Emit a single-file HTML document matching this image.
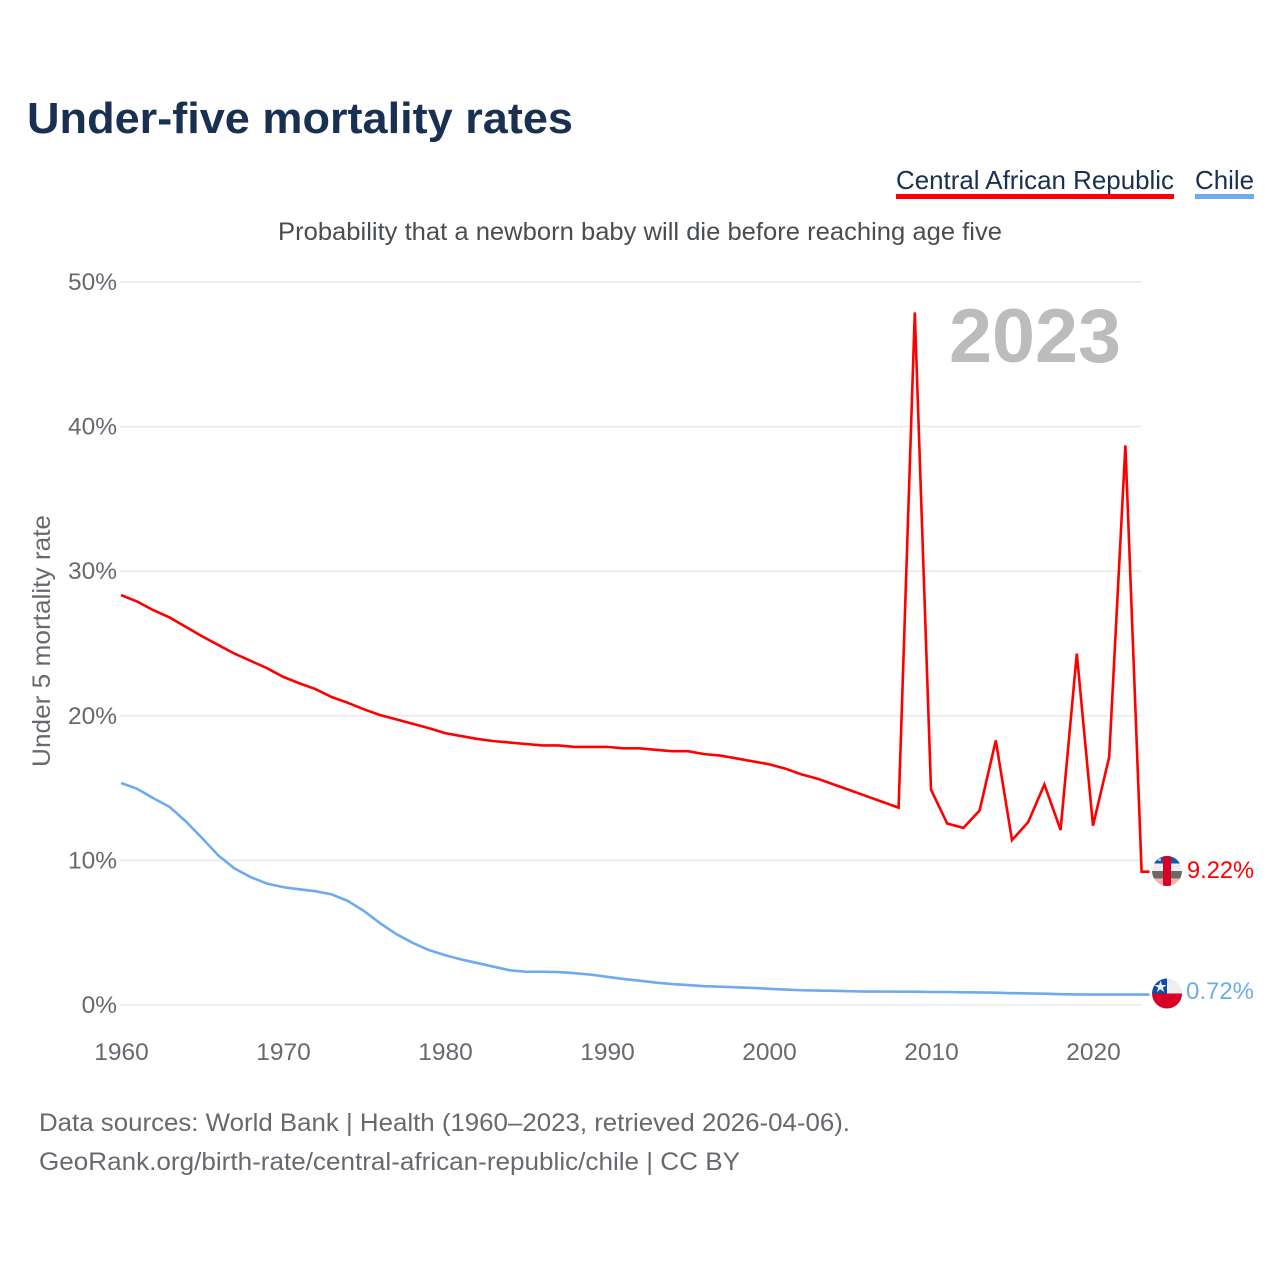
<!DOCTYPE html>
<html lang="en">
<head>
<meta charset="utf-8">
<title>Under-five mortality rates</title>
<style>
html,body{margin:0;padding:0;background:#fff;width:1280px;height:1280px;overflow:hidden}
svg{display:block}
text{font-family:"Liberation Sans",sans-serif}
.tick{fill:#666a6e;font-size:24.5px}
</style>
</head>
<body>
<svg id="chart" width="1280" height="1280" viewBox="0 0 1280 1280" xmlns="http://www.w3.org/2000/svg">
  <rect width="1280" height="1280" fill="#fff"/>
  <text x="27" y="133" font-size="44" font-weight="700" fill="#1a3050" textLength="546" lengthAdjust="spacingAndGlyphs">Under-five mortality rates</text>

  <g>
    <text x="896" y="189" font-size="26" fill="#1a3050" textLength="278" lengthAdjust="spacingAndGlyphs">Central African Republic</text>
    <rect x="896" y="194" width="278" height="5" fill="#ff0000"/>
  </g>
  <g>
    <text x="1195" y="189" font-size="26" fill="#1a3050" textLength="59" lengthAdjust="spacingAndGlyphs">Chile</text>
    <rect x="1195" y="194" width="59" height="5" fill="#6daaee"/>
  </g>

  <text x="278" y="240" font-size="25" fill="#4a4d50" textLength="724" lengthAdjust="spacingAndGlyphs">Probability that a newborn baby will die before reaching age five</text>

  <g id="grid"></g>
  <g id="yticks"></g>
  <g id="xticks"></g>

  <text transform="translate(50 641) rotate(-90)" text-anchor="middle" font-size="25" fill="#666a6e" textLength="252" lengthAdjust="spacingAndGlyphs">Under 5 mortality rate</text>

  <text x="949" y="362" font-size="76" font-weight="700" fill="#bbbcbe" textLength="172" lengthAdjust="spacingAndGlyphs">2023</text>

  <g id="series"></g>

  <defs>
    <clipPath id="clip-car"><circle cx="1167" cy="871" r="15"/></clipPath>
    <clipPath id="clip-chl"><circle cx="1167" cy="993.5" r="15"/></clipPath>
  </defs>

  <g clip-path="url(#clip-car)">
    <rect x="1152" y="856" width="30" height="7.5" fill="#0b5bb5"/>
    <rect x="1152" y="863.5" width="30" height="7.5" fill="#eeeeee"/>
    <rect x="1152" y="871" width="30" height="7.5" fill="#6a6a6a"/>
    <rect x="1152" y="878.5" width="30" height="7.5" fill="#ffb0a8"/>
    <rect x="1163" y="856" width="8" height="30" fill="#d80027"/>
    <rect x="1158" y="858.5" width="3" height="2.5" fill="#e8b090"/>
  </g>
  <g clip-path="url(#clip-chl)">
    <rect x="1152" y="978.5" width="30" height="15" fill="#eeeeee"/>
    <rect x="1152" y="978.5" width="15" height="15" fill="#0b4fa8"/>
    <rect x="1152" y="993.5" width="30" height="15" fill="#d80027"/>
    <polygon points="1160.5,980.5 1162,985 1166.5,985 1162.8,987.7 1164.2,992 1160.5,989.4 1156.8,992 1158.2,987.7 1154.5,985 1159,985" fill="#eeeeee"/>
  </g>

  <text x="1187" y="878" font-size="24" fill="#ff0000" textLength="67" lengthAdjust="spacingAndGlyphs">9.22%</text>
  <text x="1186" y="999" font-size="24" fill="#6daaee" textLength="68" lengthAdjust="spacingAndGlyphs">0.72%</text>

  <text x="39" y="1131" font-size="25" fill="#666a6e" textLength="811" lengthAdjust="spacingAndGlyphs">Data sources: World Bank | Health (1960–2023, retrieved 2026-04-06).</text>
  <text x="39" y="1170" font-size="25" fill="#666a6e" textLength="701" lengthAdjust="spacingAndGlyphs">GeoRank.org/birth-rate/central-african-republic/chile | CC BY</text>
</svg>

<script>
const startYear = 1960;
const carValues = [28.35,27.9,27.3,26.8,26.15,25.5,24.9,24.3,23.8,23.3,22.7,22.25,21.85,21.3,20.9,20.45,20.05,19.75,19.45,19.15,18.8,18.6,18.4,18.25,18.15,18.05,17.95,17.95,17.85,17.85,17.85,17.75,17.75,17.65,17.55,17.55,17.35,17.25,17.05,16.85,16.65,16.35,15.95,15.65,15.25,14.85,14.45,14.05,13.65,47.9,14.9,12.55,12.25,13.45,18.3,11.4,12.65,15.25,12.1,24.3,12.4,17.15,38.7,9.22];
const chileValues = [15.35,14.95,14.3,13.7,12.7,11.55,10.35,9.45,8.85,8.4,8.15,8.0,7.87,7.65,7.2,6.5,5.65,4.9,4.3,3.8,3.45,3.15,2.9,2.65,2.4,2.3,2.3,2.28,2.2,2.1,1.95,1.8,1.68,1.55,1.45,1.38,1.3,1.27,1.22,1.18,1.12,1.07,1.02,1.0,0.98,0.95,0.93,0.93,0.92,0.92,0.9,0.9,0.88,0.87,0.85,0.82,0.8,0.78,0.75,0.73,0.72,0.72,0.72,0.72];
const yTickValues = [0,10,20,30,40,50];
const yTickLabels = ["0%","10%","20%","30%","40%","50%"];
const xTickYears = [1960,1970,1980,1990,2000,2010,2020];

const SVG_NS = "http://www.w3.org/2000/svg";
function xScale(year){ return 121 + (year - 1960) * 16.2; }
function yScale(pct){ return 1005 - pct * 14.46; }

const grid = document.getElementById("grid");
const yticks = document.getElementById("yticks");
const xticks = document.getElementById("xticks");
const series = document.getElementById("series");
const plotRight = xScale(2023);

yTickValues.forEach(function(v, i){
  const line = document.createElementNS(SVG_NS, "line");
  line.setAttribute("x1", 120);
  line.setAttribute("x2", plotRight);
  line.setAttribute("y1", yScale(v));
  line.setAttribute("y2", yScale(v));
  line.setAttribute("stroke", "#ebebeb");
  line.setAttribute("stroke-width", "1.8");
  
  
  grid.appendChild(line);

  const label = document.createElementNS(SVG_NS, "text");
  label.setAttribute("x", 117);
  label.setAttribute("y", yScale(v) + 8);
  label.setAttribute("text-anchor", "end");
  label.setAttribute("class", "tick");
  label.textContent = yTickLabels[i];
  
  
  yticks.appendChild(label);
});

xTickYears.forEach(function(year){
  const label = document.createElementNS(SVG_NS, "text");
  label.setAttribute("x", xScale(year) + 0.5);
  label.setAttribute("y", 1060);
  label.setAttribute("text-anchor", "middle");
  label.setAttribute("class", "tick");
  label.textContent = String(year);
  
  
  xticks.appendChild(label);
});

function buildPath(values){
  let d = "";
  values.forEach(function(v, i){
    d += (i ? "L" : "M") + xScale(startYear + i).toFixed(2) + " " + yScale(v).toFixed(2);
  });
  d += "L" + (plotRight + 8).toFixed(2) + " " + yScale(values[values.length - 1]).toFixed(2);
  return d;
}

const chileLine = document.createElementNS(SVG_NS, "path");
chileLine.setAttribute("d", buildPath(chileValues));
chileLine.setAttribute("fill", "none");
chileLine.setAttribute("stroke", "#6daaee");
chileLine.setAttribute("stroke-width", "2.6");


series.appendChild(chileLine);

const carLine = document.createElementNS(SVG_NS, "path");
carLine.setAttribute("d", buildPath(carValues));
carLine.setAttribute("fill", "none");
carLine.setAttribute("stroke", "#ff0000");
carLine.setAttribute("stroke-width", "2.6");


series.appendChild(carLine);
</script>
</body>
</html>
